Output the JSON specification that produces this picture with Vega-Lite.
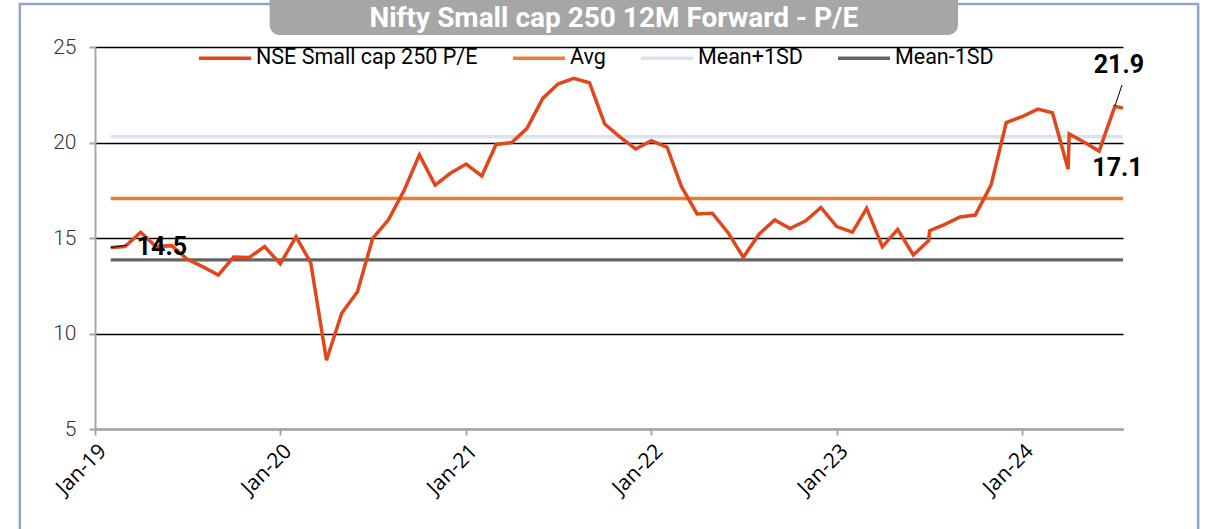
{
  "$schema": "https://vega.github.io/schema/vega-lite/v6.json",
  "width": 1028,
  "height": 382,
  "autosize": {"type": "none"},
  "padding": {"left": 95, "top": 47, "right": 83, "bottom": 100},
  "background": "white",
  "config": {"view": {"stroke": null}},
  "datasets": {
    "pe": [
      {"date": "2019-02-01", "series": "Avg", "value": 17.07},
      {"date": "2024-07-18", "series": "Avg", "value": 17.07},
      {"date": "2019-02-01", "series": "Mean+1SD", "value": 20.3},
      {"date": "2024-07-18", "series": "Mean+1SD", "value": 20.3},
      {"date": "2019-02-01", "series": "Mean-1SD", "value": 13.85},
      {"date": "2024-07-18", "series": "Mean-1SD", "value": 13.85},
      {"date": "2019-02-01", "series": "NSE Small cap 250 P/E", "value": 14.5},
      {"date": "2019-03-01", "series": "NSE Small cap 250 P/E", "value": 14.55},
      {"date": "2019-04-01", "series": "NSE Small cap 250 P/E", "value": 15.3},
      {"date": "2019-05-01", "series": "NSE Small cap 250 P/E", "value": 14.55},
      {"date": "2019-06-01", "series": "NSE Small cap 250 P/E", "value": 14.6},
      {"date": "2019-07-01", "series": "NSE Small cap 250 P/E", "value": 13.9},
      {"date": "2019-08-01", "series": "NSE Small cap 250 P/E", "value": 13.5},
      {"date": "2019-09-01", "series": "NSE Small cap 250 P/E", "value": 13.06},
      {"date": "2019-10-01", "series": "NSE Small cap 250 P/E", "value": 14.0},
      {"date": "2019-11-01", "series": "NSE Small cap 250 P/E", "value": 13.98},
      {"date": "2019-12-01", "series": "NSE Small cap 250 P/E", "value": 14.55},
      {"date": "2020-01-01", "series": "NSE Small cap 250 P/E", "value": 13.65},
      {"date": "2020-02-01", "series": "NSE Small cap 250 P/E", "value": 15.07},
      {"date": "2020-03-01", "series": "NSE Small cap 250 P/E", "value": 13.7},
      {"date": "2020-04-01", "series": "NSE Small cap 250 P/E", "value": 8.6},
      {"date": "2020-05-01", "series": "NSE Small cap 250 P/E", "value": 11.06},
      {"date": "2020-06-01", "series": "NSE Small cap 250 P/E", "value": 12.19},
      {"date": "2020-07-01", "series": "NSE Small cap 250 P/E", "value": 14.98},
      {"date": "2020-08-01", "series": "NSE Small cap 250 P/E", "value": 15.95},
      {"date": "2020-09-01", "series": "NSE Small cap 250 P/E", "value": 17.5},
      {"date": "2020-10-01", "series": "NSE Small cap 250 P/E", "value": 19.35},
      {"date": "2020-11-01", "series": "NSE Small cap 250 P/E", "value": 17.77},
      {"date": "2020-12-01", "series": "NSE Small cap 250 P/E", "value": 18.39},
      {"date": "2021-01-01", "series": "NSE Small cap 250 P/E", "value": 18.87},
      {"date": "2021-02-01", "series": "NSE Small cap 250 P/E", "value": 18.25},
      {"date": "2021-03-01", "series": "NSE Small cap 250 P/E", "value": 19.9},
      {"date": "2021-04-01", "series": "NSE Small cap 250 P/E", "value": 20.0},
      {"date": "2021-05-01", "series": "NSE Small cap 250 P/E", "value": 20.74},
      {"date": "2021-06-01", "series": "NSE Small cap 250 P/E", "value": 22.31},
      {"date": "2021-07-01", "series": "NSE Small cap 250 P/E", "value": 23.06},
      {"date": "2021-08-01", "series": "NSE Small cap 250 P/E", "value": 23.36},
      {"date": "2021-09-01", "series": "NSE Small cap 250 P/E", "value": 23.13},
      {"date": "2021-10-01", "series": "NSE Small cap 250 P/E", "value": 20.97},
      {"date": "2021-11-01", "series": "NSE Small cap 250 P/E", "value": 20.27},
      {"date": "2021-12-01", "series": "NSE Small cap 250 P/E", "value": 19.66},
      {"date": "2022-01-01", "series": "NSE Small cap 250 P/E", "value": 20.1},
      {"date": "2022-02-01", "series": "NSE Small cap 250 P/E", "value": 19.75},
      {"date": "2022-03-01", "series": "NSE Small cap 250 P/E", "value": 17.7},
      {"date": "2022-04-01", "series": "NSE Small cap 250 P/E", "value": 16.26},
      {"date": "2022-05-01", "series": "NSE Small cap 250 P/E", "value": 16.3},
      {"date": "2022-06-01", "series": "NSE Small cap 250 P/E", "value": 15.28},
      {"date": "2022-07-01", "series": "NSE Small cap 250 P/E", "value": 13.99},
      {"date": "2022-08-01", "series": "NSE Small cap 250 P/E", "value": 15.2},
      {"date": "2022-09-01", "series": "NSE Small cap 250 P/E", "value": 15.95},
      {"date": "2022-10-01", "series": "NSE Small cap 250 P/E", "value": 15.5},
      {"date": "2022-11-01", "series": "NSE Small cap 250 P/E", "value": 15.9},
      {"date": "2022-12-01", "series": "NSE Small cap 250 P/E", "value": 16.6},
      {"date": "2023-01-01", "series": "NSE Small cap 250 P/E", "value": 15.6},
      {"date": "2023-02-01", "series": "NSE Small cap 250 P/E", "value": 15.31},
      {"date": "2023-03-01", "series": "NSE Small cap 250 P/E", "value": 16.55},
      {"date": "2023-04-01", "series": "NSE Small cap 250 P/E", "value": 14.54},
      {"date": "2023-05-01", "series": "NSE Small cap 250 P/E", "value": 15.45},
      {"date": "2023-06-01", "series": "NSE Small cap 250 P/E", "value": 14.11},
      {"date": "2023-07-01", "series": "NSE Small cap 250 P/E", "value": 14.86},
      {"date": "2023-07-03", "series": "NSE Small cap 250 P/E", "value": 15.38},
      {"date": "2023-08-01", "series": "NSE Small cap 250 P/E", "value": 15.7},
      {"date": "2023-09-01", "series": "NSE Small cap 250 P/E", "value": 16.1},
      {"date": "2023-10-01", "series": "NSE Small cap 250 P/E", "value": 16.2},
      {"date": "2023-11-01", "series": "NSE Small cap 250 P/E", "value": 17.77},
      {"date": "2023-12-01", "series": "NSE Small cap 250 P/E", "value": 21.04},
      {"date": "2024-01-01", "series": "NSE Small cap 250 P/E", "value": 21.35},
      {"date": "2024-02-01", "series": "NSE Small cap 250 P/E", "value": 21.75},
      {"date": "2024-03-01", "series": "NSE Small cap 250 P/E", "value": 21.56},
      {"date": "2024-04-01", "series": "NSE Small cap 250 P/E", "value": 18.6},
      {"date": "2024-04-03", "series": "NSE Small cap 250 P/E", "value": 20.45},
      {"date": "2024-05-01", "series": "NSE Small cap 250 P/E", "value": 20.04},
      {"date": "2024-06-01", "series": "NSE Small cap 250 P/E", "value": 19.55},
      {"date": "2024-07-02", "series": "NSE Small cap 250 P/E", "value": 21.9},
      {"date": "2024-07-18", "series": "NSE Small cap 250 P/E", "value": 21.8}
    ]
  },
  "layer": [
    {
      "data": {"values": [{}]},
      "mark": {"type": "rect", "fillOpacity": 0, "stroke": "#8EA6C9", "strokeWidth": 2.5},
      "encoding": {
        "x": {"datum": {"year": 2018, "month": 8, "date": 6}, "type": "temporal", "scale": {"domain": [{"year": 2019, "month": 1, "date": 1}, {"year": 2024, "month": 7, "date": 18}]}},
        "x2": {"datum": {"year": 2024, "month": 12, "date": 13}},
        "y": {"datum": 27.25, "type": "quantitative", "scale": {"domain": [5, 25], "nice": false, "zero": false}},
        "y2": {"datum": -1.5}
      }
    },
    {
      "data": {"values": [{}]},
      "mark": {"type": "rect", "fill": "#A6A6A6", "cornerRadius": 10},
      "encoding": {
        "x": {"datum": {"year": 2019, "month": 12, "date": 11}, "type": "temporal"},
        "x2": {"datum": {"year": 2023, "month": 8, "date": 28}},
        "y": {"datum": 29, "type": "quantitative"},
        "y2": {"datum": 25.63}
      }
    },
    {
      "data": {"values": [{}]},
      "mark": {"type": "text", "text": "Nifty Small cap 250 12M Forward - P/E", "font": "Roboto", "fontSize": 28, "fontWeight": "bold", "color": "white", "align": "center", "baseline": "alphabetic"},
      "encoding": {
        "x": {"datum": {"year": 2021, "month": 10, "date": 19}, "type": "temporal"},
        "y": {"datum": 26.05, "type": "quantitative"}
      }
    },
    {
      "data": {"name": "pe"},
      "mark": {"type": "line", "interpolate": "linear"},
      "encoding": {
        "x": {
          "field": "date", "type": "temporal",
          "scale": {"domain": [{"year": 2019, "month": 1, "date": 1}, {"year": 2024, "month": 7, "date": 18}]},
          "axis": {
            "values": [{"year": 2019, "month": 1, "date": 1}, {"year": 2020, "month": 1, "date": 1}, {"year": 2021, "month": 1, "date": 1}, {"year": 2022, "month": 1, "date": 1}, {"year": 2023, "month": 1, "date": 1}, {"year": 2024, "month": 1, "date": 1}],
            "format": "%b-%y", "labelAngle": -45, "grid": false, "zindex": 1, "title": null,
            "domainColor": "#A6A6A6", "domainWidth": 2, "tickColor": "#A6A6A6", "tickWidth": 2, "tickSize": 6,
            "labelFont": "Open Sans", "labelFontSize": 21, "labelColor": "black", "labelPadding": 5
          }
        },
        "y": {
          "field": "value", "type": "quantitative",
          "scale": {"domain": [5, 25], "nice": false, "zero": false},
          "axis": {
            "values": [5, 10, 15, 20, 25], "grid": true, "gridColor": "black", "gridWidth": 1.5, "title": null,
            "domainColor": "#A6A6A6", "domainWidth": 2, "tickColor": "#A6A6A6", "tickWidth": 2, "tickSize": 6,
            "labelFont": "Roboto", "labelFontWeight": 300, "labelFontSize": 21, "labelColor": "#333333", "labelPadding": 13
          }
        },
        "color": {
          "field": "series", "type": "nominal",
          "scale": {"domain": ["NSE Small cap 250 P/E", "Avg", "Mean+1SD", "Mean-1SD"], "range": ["#E2461B", "#EE7D31", "#D9E2F3", "#646464"]},
          "legend": {
            "orient": "none", "legendX": 102, "legendY": -17, "direction": "horizontal", "title": null,
            "symbolType": "stroke", "symbolSize": 2704, "symbolStrokeWidth": 4, "labelLimit": 500,
            "labelFont": "Roboto", "labelFontSize": 21.5, "labelColor": "black", "labelOffset": 3,
            "columnPadding": 28, "padding": 0
          }
        },
        "strokeWidth": {
          "field": "series", "type": "nominal",
          "scale": {"domain": ["NSE Small cap 250 P/E", "Avg", "Mean+1SD", "Mean-1SD"], "range": [3.5, 3.3, 4, 4]},
          "legend": null
        }
      }
    },
    {
      "data": {"values": [{}]},
      "mark": {"type": "rule", "color": "black", "strokeWidth": 1},
      "encoding": {
        "x": {"datum": {"year": 2019, "month": 2, "date": 1}, "type": "temporal"},
        "x2": {"datum": {"year": 2019, "month": 3, "date": 5}},
        "y": {"datum": 14.5, "type": "quantitative"},
        "y2": {"datum": 14.63}
      }
    },
    {
      "data": {"values": [{}]},
      "mark": {"type": "rule", "color": "black", "strokeWidth": 1},
      "encoding": {
        "x": {"datum": {"year": 2024, "month": 7, "date": 2}, "type": "temporal"},
        "x2": {"datum": {"year": 2024, "month": 7, "date": 16}},
        "y": {"datum": 21.9, "type": "quantitative"},
        "y2": {"datum": 23.01}
      }
    },
    {
      "data": {"values": [{}]},
      "mark": {"type": "text", "text": "14.5", "font": "Roboto", "fontSize": 25, "fontWeight": "bold", "color": "black", "align": "left", "baseline": "alphabetic", "dx": 26, "dy": 7.5},
      "encoding": {
        "x": {"datum": {"year": 2019, "month": 2, "date": 1}, "type": "temporal"},
        "y": {"datum": 14.5, "type": "quantitative"}
      }
    },
    {
      "data": {"values": [{}]},
      "mark": {"type": "text", "text": "21.9", "font": "Roboto", "fontSize": 25, "fontWeight": "bold", "color": "black", "align": "center", "baseline": "alphabetic", "dx": 4, "dy": -33},
      "encoding": {
        "x": {"datum": {"year": 2024, "month": 7, "date": 2}, "type": "temporal"},
        "y": {"datum": 21.9, "type": "quantitative"}
      }
    },
    {
      "data": {"values": [{}]},
      "mark": {"type": "text", "text": "17.1", "font": "Roboto", "fontSize": 25, "fontWeight": "bold", "color": "black", "align": "center", "baseline": "alphabetic", "dx": -5.5, "dy": -22.5},
      "encoding": {
        "x": {"datum": {"year": 2024, "month": 7, "date": 18}, "type": "temporal"},
        "y": {"datum": 17.07, "type": "quantitative"}
      }
    }
  ]
}
